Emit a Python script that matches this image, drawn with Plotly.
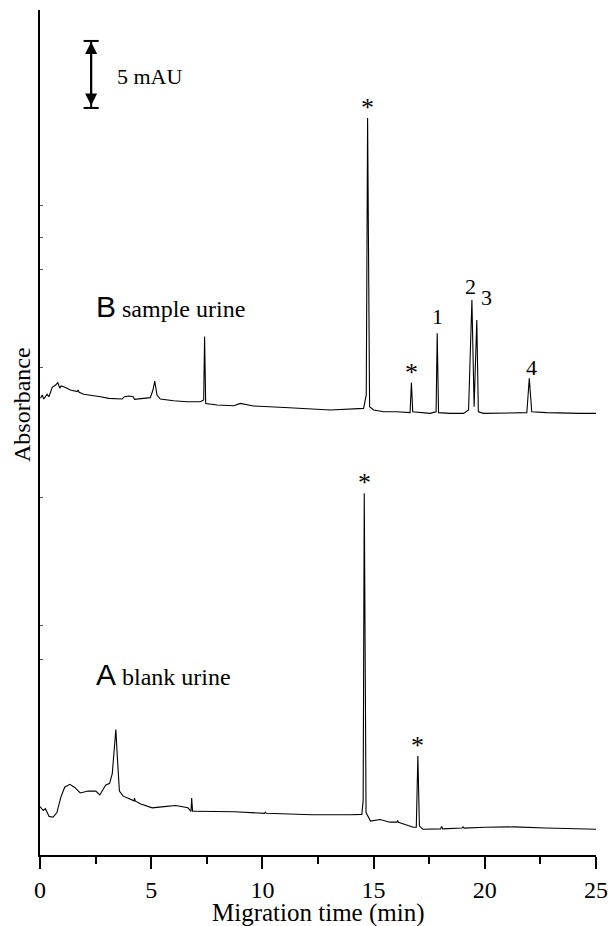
import plotly.graph_objects as go

# ---- data ----
time_A = [0, 0.15, 0.24, 0.41, 0.59, 0.76, 0.94, 1.11, 1.34, 1.55, 1.81, 2.16, 2.51, 2.69, 2.95, 3.13,
          3.25, 3.34, 3.41, 3.48, 3.57, 3.74, 4.0, 4.23, 4.25, 4.28, 4.53, 5.05, 5.58, 6.1, 6.65, 6.79,
          6.82, 6.86, 6.98, 8.73, 10.1, 10.13, 10.18, 12.23, 13.98, 14.47, 14.53, 14.58, 14.66, 14.86,
          15.29, 15.73, 16.05, 16.08, 16.12, 16.78, 16.92, 16.99, 17.06, 17.22, 18.01, 18.06, 18.11,
          18.97, 19.02, 19.07, 20.02, 21.33, 22.73, 25.0]
abs_A = [3.61, 3.32, 3.46, 2.88, 2.82, 3.17, 4.34, 5.06, 5.27, 5.06, 4.63, 4.77, 4.77, 4.48, 5.21, 5.35,
         6.08, 8.12, 9.37, 7.24, 4.77, 4.39, 4.19, 4.04, 4.25, 4.04, 3.81, 3.52, 3.61, 3.69, 3.52, 3.26,
         4.25, 3.26, 3.26, 3.23, 3.11, 3.2, 3.11, 3.0, 3.0, 3.03, 4.04, 27.0, 3.17, 2.53,
         2.65, 2.45, 2.45, 2.55, 2.45, 2.07, 2.07, 7.39, 2.16, 1.92, 1.95, 2.13, 1.95,
         2.01, 2.1, 2.01, 2.07, 2.1, 2.01, 1.92]

time_B = [0.02, 0.10, 0.17, 0.32, 0.40, 0.55, 0.70, 0.80, 0.89, 0.95, 1.07, 1.37, 1.67, 1.71, 1.76,
          1.97, 2.72, 3.09, 3.69, 3.80, 3.99, 4.19, 4.25, 4.96, 5.08, 5.16, 5.26, 5.41, 6.01, 6.61,
          7.21, 7.36, 7.40, 7.45, 7.96, 8.71, 9.01, 9.23, 9.6, 11.0, 12.0, 13.05, 14.55, 14.67, 14.73,
          14.82, 15.0, 15.45, 16.04, 16.64, 16.70, 16.76, 17.54, 17.81, 17.86, 17.92, 18.44, 19.04,
          19.27, 19.42, 19.52, 19.64, 19.71, 19.94, 21.89, 22.0, 22.11, 22.78, 24.28, 25.0]
abs_B = [34.08, 34.33, 34.03, 34.38, 34.2, 34.9, 35.07, 35.25, 34.83, 35.0, 34.95, 34.7, 34.58, 34.7, 34.53,
         34.38, 34.2, 34.08, 34.03, 34.2, 34.25, 34.2, 34.0, 34.13, 34.7, 35.37, 34.33, 34.03, 33.9, 33.83,
         33.83, 33.96, 38.7, 33.7, 33.58, 33.53, 33.7, 33.63, 33.51, 33.4, 33.3, 33.21, 33.33, 34.33, 55.0,
         33.46, 33.21, 33.08, 33.08, 33.01, 35.25, 33.08, 32.96, 33.08, 38.93, 33.01, 32.96, 32.96,
         33.21, 41.42, 33.46, 39.93, 33.08, 32.96, 33.01, 35.57, 33.08, 33.01, 32.96, 32.96]

# peak labels: (time, peak height, label)
peak_labels_B = [(14.73, 55.0, "*"), (16.70, 35.25, "*"), (17.86, 38.93, "1"),
                 (19.42, 41.42, "2"), (19.64, 39.93, "3"), (22.0, 35.57, "4")]
peak_labels_A = [(14.58, 27.0, "*"), (16.99, 7.39, "*")]

x_ticks = [0, 5, 10, 15, 20, 25]
y_tick_marks = [48.5, 46.1, 43.66, 36.4, 26.7, 17.1, 14.6]
scale_bar_mAU = 5
scale_bar_top = 60.75
scale_bar_time = 2.30

SERIF = "Liberation Serif, Times New Roman, serif"

fig = go.Figure()
fig.add_trace(go.Scatter(x=time_B, y=abs_B, mode="lines", line=dict(color="black", width=1.1),
                         showlegend=False, hoverinfo="skip"))
fig.add_trace(go.Scatter(x=time_A, y=abs_A, mode="lines", line=dict(color="black", width=1.1),
                         showlegend=False, hoverinfo="skip"))

label_offsets = {"1": (0, 2), "2": (-1, -1), "3": (10, 8), "4": (2, -4)}
annotations = []
for t, v, lab in peak_labels_B + peak_labels_A:
    if lab == "*":
        annotations.append(dict(x=t, y=v, text="*", showarrow=False, xanchor="center", yanchor="bottom",
                                yshift=-6, font=dict(family=SERIF, size=26, color="black")))
    else:
        dx, dy = label_offsets[lab]
        annotations.append(dict(x=t, y=v, text=lab, showarrow=False, xanchor="center", yanchor="bottom",
                                xshift=dx, yshift=dy, font=dict(family=SERIF, size=22, color="black")))

# trace names (big sans letter + serif description)
annotations.append(dict(x=2.45, y=(855 - 306) / 13.4,
                        text='<span style="font-family:Liberation Sans;font-size:30px">B</span> sample urine',
                        showarrow=False, xanchor="left", yanchor="middle",
                        font=dict(family=SERIF, size=24, color="black")))
annotations.append(dict(x=2.45, y=(855 - 674) / 13.4,
                        text='<span style="font-family:Liberation Sans;font-size:30px">A</span> blank urine',
                        showarrow=False, xanchor="left", yanchor="middle",
                        font=dict(family=SERIF, size=24, color="black")))

# axis titles as annotations
annotations.append(dict(xref="paper", yref="y", x=0, xshift=-18, y=(855 - 405) / 13.4, text="Absorbance",
                        textangle=-90, showarrow=False, xanchor="center", yanchor="middle",
                        font=dict(family=SERIF, size=24, color="black")))
annotations.append(dict(xref="x", yref="paper", x=12.5, y=0, yshift=-58, text="Migration time (min)",
                        showarrow=False, xanchor="center", yanchor="middle",
                        font=dict(family=SERIF, size=25, color="black")))

# scale bar
annotations.append(dict(x=scale_bar_time, y=scale_bar_top, ax=scale_bar_time, ay=scale_bar_top - scale_bar_mAU,
                        axref="x", ayref="y", xref="x", yref="y", showarrow=True, arrowside="end+start",
                        arrowhead=2, arrowsize=1.2, arrowwidth=2, arrowcolor="black", text="",
                        standoff=1, startstandoff=1))
annotations.append(dict(x=scale_bar_time + 1.08, y=scale_bar_top - scale_bar_mAU / 2, yshift=-2,
                        text=f"{scale_bar_mAU} mAU",
                        showarrow=False, xanchor="left", yanchor="middle",
                        font=dict(family=SERIF, size=22, color="black")))

shapes = []
for yy in (scale_bar_top, scale_bar_top - scale_bar_mAU):
    shapes.append(dict(type="line", xref="x", yref="y", x0=scale_bar_time - 0.34, x1=scale_bar_time + 0.34,
                       y0=yy, y1=yy, line=dict(color="black", width=2)))
shapes.append(dict(type="line", xref="x", yref="y", x0=scale_bar_time, x1=scale_bar_time,
                   y0=scale_bar_top, y1=scale_bar_top - scale_bar_mAU, line=dict(color="black", width=2)))

fig.update_layout(
    width=608, height=926,
    margin=dict(l=40, r=12, t=10, b=71, autoexpand=False),
    paper_bgcolor="white", plot_bgcolor="white",
    annotations=annotations, shapes=shapes,
    xaxis=dict(range=[0, 25], tickvals=x_ticks, ticks="outside", ticklen=12, tickwidth=2, tickcolor="black",
               showline=True, linecolor="black", linewidth=2, showgrid=False, zeroline=False,
               automargin=False, ticklabeloverflow="allow",
               minor=dict(dtick=2.5, tick0=0, ticks="outside", ticklen=7, tickwidth=2, tickcolor="black",
                          showgrid=False),
               tickfont=dict(family=SERIF, size=24, color="black")),
    yaxis=dict(range=[0, 845 / 13.4], tickvals=y_tick_marks, ticks="inside", ticklen=3, tickwidth=1,
               tickcolor="#555", showticklabels=False, automargin=False,
               showline=True, linecolor="black", linewidth=2, showgrid=False, zeroline=False),
)

fig.write_html("out.html", config={"displayModeBar": False},
               post_script="document.body.style.margin='0';document.body.style.overflow='hidden';")
